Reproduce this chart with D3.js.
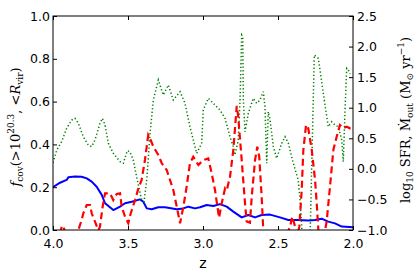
<!DOCTYPE html>
<html>
<head>
<meta charset="utf-8">
<script src="https://cdn.jsdelivr.net/npm/d3@7.9.0/dist/d3.min.js"></script>
<style>
  body { margin: 0; background: #fff; }
  svg { display: block; }
</style>
</head>
<body>
<script>
// covering fraction (left axis)
const zCov = [4.0, 3.953, 3.909, 3.898, 3.853, 3.809, 3.775, 3.742, 3.709, 3.675, 3.653, 3.598, 3.553, 3.52, 3.475, 3.42, 3.398, 3.375, 3.342, 3.298, 3.253, 3.175, 3.131, 3.098, 3.053, 3.02, 2.975, 2.931, 2.887, 2.842, 2.798, 2.742, 2.698, 2.653, 2.609, 2.553, 2.487, 2.431, 2.365, 2.298, 2.253, 2.209, 2.165, 2.12, 2.075, 2.0];
const fCov = [0.200, 0.221, 0.234, 0.246, 0.250, 0.249, 0.241, 0.226, 0.202, 0.164, 0.125, 0.093, 0.109, 0.125, 0.132, 0.143, 0.132, 0.101, 0.097, 0.106, 0.106, 0.097, 0.101, 0.109, 0.101, 0.106, 0.117, 0.112, 0.121, 0.109, 0.086, 0.059, 0.070, 0.059, 0.070, 0.072, 0.059, 0.047, 0.047, 0.044, 0.047, 0.053, 0.039, 0.031, 0.016, 0.013];

// log10 SFR (right axis)
const zSfr = [4.0, 3.975, 3.942, 3.909, 3.875, 3.853, 3.831, 3.798, 3.765, 3.742, 3.72, 3.687, 3.671, 3.653, 3.631, 3.598, 3.553, 3.531, 3.505, 3.487, 3.465, 3.438, 3.409, 3.393, 3.375, 3.353, 3.331, 3.298, 3.265, 3.231, 3.198, 3.153, 3.12, 3.087, 3.042, 3.009, 2.998, 2.965, 2.931, 2.887, 2.853, 2.82, 2.798, 2.787, 2.765, 2.753, 2.742, 2.735, 2.731, 2.72, 2.698, 2.665, 2.642, 2.62, 2.598, 2.587, 2.575, 2.565, 2.553, 2.531, 2.509, 2.475, 2.453, 2.431, 2.398, 2.365, 2.353, 2.333, 2.3, 2.285, 2.258, 2.231, 2.198, 2.165, 2.142, 2.12, 2.098, 2.075, 2.065, 2.053, 2.042, 2.031, 2.02];
const logSfr = [0.10, 0.308, 0.445, 0.663, 0.799, 0.826, 0.745, 0.526, 0.390, 0.363, 0.472, 0.745, 0.826, 0.717, 0.418, 0.254, 0.117, 0.091, 0.297, 0.280, 0.145, -0.182, -0.509, -0.537, -0.182, 0.582, 1.126, 1.453, 1.208, 1.371, 1.126, 1.262, 1.072, 0.689, 0.254, 0.418, 0.963, 1.154, 1.072, 0.963, 0.826, 0.526, 0.363, 0.227, 0.472, 1.126, 2.189, 2.161, 1.126, 0.608, 0.908, 1.154, 1.072, 1.126, 1.262, 1.017, 0.091, 0.935, 0.799, 0.363, 0.172, 0.418, 0.526, 0.418, 0.091, -0.182, -0.509, -1.3, -1.3, -1.0, 1.862, 1.808, 1.236, 0.689, 0.771, 0.717, 0.689, 0.472, 0.117, 0.963, 1.644, 1.617, 1.55];

// log10 Mdot_out (right axis)
const zOut = [4.0, 3.967, 3.94, 3.927, 3.913, 3.873, 3.84, 3.831, 3.809, 3.798, 3.775, 3.753, 3.742, 3.72, 3.698, 3.687, 3.669, 3.653, 3.62, 3.598, 3.575, 3.553, 3.542, 3.52, 3.498, 3.482, 3.453, 3.431, 3.409, 3.387, 3.365, 3.349, 3.331, 3.298, 3.275, 3.242, 3.22, 3.198, 3.175, 3.153, 3.131, 3.109, 3.087, 3.065, 3.031, 2.998, 2.965, 2.942, 2.92, 2.893, 2.875, 2.853, 2.842, 2.82, 2.798, 2.775, 2.765, 2.742, 2.72, 2.709, 2.687, 2.675, 2.653, 2.638, 2.625, 2.609, 2.598, 2.587, 2.447, 2.42, 2.405, 2.391, 2.373, 2.358, 2.342, 2.331, 2.313, 2.298, 2.275, 2.253, 2.242, 2.231, 2.22, 2.193, 2.175, 2.153, 2.131, 2.109, 2.087, 2.065, 2.042, 2.02, 2.0];
const logOut = [-1.4, -1.2, -0.93, -0.96, -1.2, -1.4, -1.1, -1.0, -0.837, -0.727, -0.591, -0.591, -0.727, -0.864, -1.0, -0.95, -0.619, -0.40, -0.40, -0.51, -0.41, -0.40, -0.62, -0.78, -0.89, -0.73, -0.51, -0.32, -0.18, 0.145, 0.554, 0.472, 0.363, 0.227, 0.091, -0.019, -0.182, -0.346, -0.619, -0.89, -0.62, -0.29, 0.091, 0.199, 0.063, 0.145, 0.172, -0.073, -0.346, -0.80, -0.56, -0.32, -0.35, -0.13, 0.308, 1.03, 0.853, 0.145, -0.56, -0.86, -0.88, -0.455, 0.145, 0.363, 0.199, -0.455, -1.0, -1.3, -1.1, -0.95, -0.78, -0.9, -1.1, -0.95, -0.35, 0.308, 0.72, 0.66, 0.308, -0.18, -0.56, -1.0, -1.3, -1.1, -0.85, -0.28, 0.308, 0.526, 0.717, 0.663, 0.689, 0.663, 0.66];

const xTicks = [4.0, 3.5, 3.0, 2.5, 2.0];
const leftTicks = [0.0, 0.2, 0.4, 0.6, 0.8, 1.0];
const rightTicks = [-1.0, -0.5, 0.0, 0.5, 1.0, 1.5, 2.0, 2.5];

const W = 415, H = 277;
const m = { left: 53, right: 353, top: 16, bottom: 230 };

const svg = d3.select("body").append("svg").attr("width", W).attr("height", H);

const x = d3.scaleLinear().domain([4, 2]).range([m.left, m.right]);
const yL = d3.scaleLinear().domain([0, 1]).range([m.bottom, m.top]);
const yR = d3.scaleLinear().domain([-1, 2.5]).range([m.bottom, m.top]);

svg.append("clipPath").attr("id", "plot")
  .append("rect").attr("x", m.left).attr("y", m.top)
  .attr("width", m.right - m.left).attr("height", m.bottom - m.top);

const plot = svg.append("g").attr("clip-path", "url(#plot)");

const zip = (a, b) => a.map((v, i) => [v, b[i]]);

plot.append("path")
  .attr("d", d3.line().x(d => x(d[0])).y(d => yL(d[1]))(zip(zCov, fCov)))
  .attr("fill", "none").attr("stroke", "#0000ff").attr("stroke-width", 2)
  .attr("stroke-linejoin", "round");

plot.append("path")
  .attr("d", d3.line().x(d => x(d[0])).y(d => yR(d[1]))(zip(zSfr, logSfr)))
  .attr("fill", "none").attr("stroke", "#008000").attr("stroke-width", 1.5)
  .attr("stroke-dasharray", "1.3,2.3");

plot.append("path")
  .attr("d", d3.line().x(d => x(d[0])).y(d => yR(d[1]))(zip(zOut, logOut)))
  .attr("fill", "none").attr("stroke", "#ff0000").attr("stroke-width", 2.2)
  .attr("stroke-dasharray", "7,4");

const font = "DejaVu Sans, sans-serif";
const fmt = d3.format(".1f");

function styleAxis(g) {
  g.select(".domain").remove();
  g.selectAll("line").attr("stroke", "#000");
  g.selectAll("text").attr("font-family", font).attr("font-size", 12.5).attr("fill", "#000");
}

svg.append("g").attr("transform", `translate(0,${m.bottom})`)
  .call(d3.axisBottom(x).tickValues(xTicks).tickFormat(fmt).tickSizeInner(-4).tickSizeOuter(0).tickPadding(9))
  .call(styleAxis);

svg.append("g").attr("transform", `translate(0,${m.top})`)
  .call(d3.axisTop(x).tickValues(xTicks).tickFormat("").tickSizeInner(-4).tickSizeOuter(0))
  .call(styleAxis);

svg.append("g").attr("transform", `translate(${m.left},0)`)
  .call(d3.axisLeft(yL).tickValues(leftTicks).tickFormat(fmt).tickSizeInner(-4).tickSizeOuter(0).tickPadding(3))
  .call(styleAxis);

svg.append("g").attr("transform", `translate(${m.right},0)`)
  .call(d3.axisRight(yR).tickValues(rightTicks).tickFormat(fmt).tickSizeInner(-4).tickSizeOuter(0).tickPadding(4))
  .call(styleAxis);

svg.append("rect")
  .attr("x", m.left).attr("y", m.top)
  .attr("width", m.right - m.left).attr("height", m.bottom - m.top)
  .attr("fill", "none").attr("stroke", "#000").attr("stroke-width", 1);

// axis titles
svg.append("text")
  .attr("x", (m.left + m.right) / 2).attr("y", 268)
  .attr("text-anchor", "middle")
  .attr("font-family", font).attr("font-size", 14)
  .text("z");

const serif = "DejaVu Serif, serif";
const lt = svg.append("text")
  .attr("transform", "translate(20,127) rotate(-90)")
  .attr("text-anchor", "middle")
  .attr("font-family", serif).attr("font-size", 13);
lt.append("tspan").attr("font-style", "italic").text("f");
lt.append("tspan").attr("font-size", 9).attr("dy", 3).text("cov");
lt.append("tspan").attr("dy", -3).text("(>10");
lt.append("tspan").attr("font-size", 9).attr("dy", -6).text("20.3");
lt.append("tspan").attr("dy", 6).text(", <");
lt.append("tspan").attr("font-style", "italic").text("R");
lt.append("tspan").attr("font-size", 9).attr("dy", 3).text("vir");
lt.append("tspan").attr("dy", -3).text(")");

const rt = svg.append("text")
  .attr("transform", "translate(410,120) rotate(-90)")
  .attr("text-anchor", "middle")
  .attr("font-family", serif).attr("font-size", 13);
rt.append("tspan").text("log");
rt.append("tspan").attr("font-size", 9).attr("dy", 3).text("10");
rt.append("tspan").attr("dy", -3).text(" SFR, M\u0307");
rt.append("tspan").attr("font-size", 9).attr("dy", 3).text("out");
rt.append("tspan").attr("dy", -3).text(" (M");
rt.append("tspan").attr("font-size", 9).attr("dy", 3).text("⊙");
rt.append("tspan").attr("dy", -3).text(" yr");
rt.append("tspan").attr("font-size", 9).attr("dy", -6).text("−1");
rt.append("tspan").attr("dy", 6).text(")");
</script>
</body>
</html>
